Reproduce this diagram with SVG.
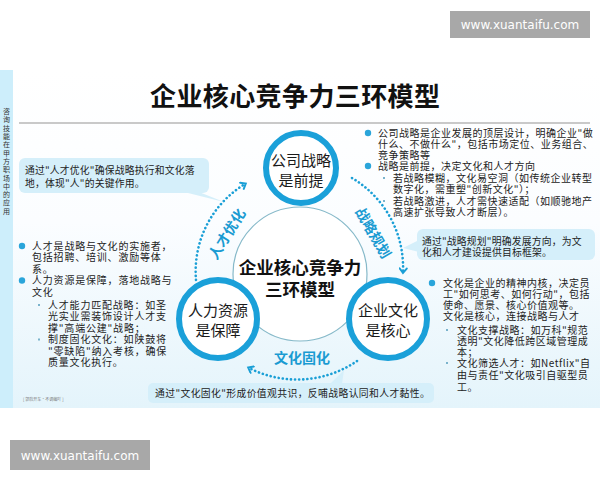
<svg xmlns="http://www.w3.org/2000/svg" width="600" height="480" viewBox="0 0 600 480">
<defs>
<linearGradient id="bg" x1="0" y1="0" x2="0" y2="1">
<stop offset="0" stop-color="#ffffff"/>
<stop offset="0.45" stop-color="#fbfdff"/>
<stop offset="1" stop-color="#e4f4fb"/>
</linearGradient>
<marker id="chev" viewBox="0 0 10 10" markerWidth="9" markerHeight="9" refX="6" refY="5" orient="auto" markerUnits="userSpaceOnUse">
<path d="M2,1 L7,5 L2,9" fill="none" stroke="#1a9fd6" stroke-width="2.2" stroke-linecap="round"/>
</marker>
<style>
.t{font-family:"Noto Sans CJK SC","Noto Sans",sans-serif;fill:#222;}
.b{font-size:10px;letter-spacing:0.5px;}
.c{font-size:9.8px;letter-spacing:0.2px;}
.ring{fill:#fff;stroke:#1aa0d9;stroke-width:6;}
.nl{font-size:15px;text-anchor:middle;fill:#1a1a1a;}
.arc{fill:none;stroke:#1a9fd6;stroke-width:2.6;stroke-dasharray:0.1 4;stroke-linecap:round;marker-end:url(#chev);}
.al{font-family:"Noto Sans CJK SC",sans-serif;font-size:14px;font-weight:bold;fill:#1a9bd2;text-anchor:middle;}
.bl{fill:#2aa5da;}
.sb{fill:#7ab3cc;}
.co{fill:#d5effa;}
.wm{fill:#a8a8a8;}
.wmt{font-family:"DejaVu Sans",sans-serif;font-size:12px;fill:#fff;text-anchor:middle;}
</style>
</defs>
<rect width="600" height="480" fill="#fff"/>
<rect x="13" y="70" width="587" height="338" fill="url(#bg)"/>
<rect x="0" y="70" width="13" height="338" fill="#cdeefb"/>
<text class="t" x="6.5" y="108" font-size="7" letter-spacing="1.3" writing-mode="vertical-rl" style="fill:#333">咨询技能在甲方职场中的应用</text>
<text class="t" x="150" y="35" font-size="26" font-weight="bold" letter-spacing="0.4" style="fill:#111" transform="translate(0,71)">企业核心竞争力三环模型</text>
<line x1="19" y1="123" x2="590" y2="123" stroke="#c9c9c9" stroke-width="2"/>

<g id="connectors">
<path class="arc" d="M196,280 A102,102 0 0 1 245,184"/>
<path class="arc" d="M352,178 A104,104 0 0 1 403,272"/>
<path class="arc" d="M357,361 A106,106 0 0 1 249,368"/>
<text class="al" transform="translate(227,234) rotate(-58)" dy="5">人才优化</text>
<text class="al" transform="translate(373,233) rotate(60)" dy="5">战略规划</text>
<text class="al" x="302" y="363">文化固化</text>
</g>

<g id="center">
<circle cx="300" cy="274" r="67" fill="#fff" stroke="#86b9c9" stroke-width="1.2"/>
<text class="t" x="300" y="274" font-size="17.5" font-weight="bold" text-anchor="middle" style="fill:#111">企业核心竞争力</text>
<text class="t" x="300" y="296" font-size="17.5" font-weight="bold" text-anchor="middle" style="fill:#111">三环模型</text>
</g>

<g id="strategy">
<circle class="ring" cx="301" cy="168" r="35"/>
<text class="t nl" x="301" y="166">公司战略</text>
<text class="t nl" x="301" y="186">是前提</text>
</g>
<g id="hr">
<circle class="ring" cx="218" cy="319" r="39"/>
<text class="t nl" x="218" y="316">人力资源</text>
<text class="t nl" x="218" y="336">是保障</text>
</g>
<g id="culture">
<circle class="ring" cx="388" cy="319" r="39"/>
<text class="t nl" x="388" y="316">企业文化</text>
<text class="t nl" x="388" y="336">是核心</text>
</g>

<g id="note-strategy">
<circle class="bl" cx="368" cy="133" r="3.2"/>
<circle class="bl" cx="368" cy="166" r="3.2"/>
<rect class="sb" x="383" y="177" width="2" height="2"/>
<rect class="sb" x="383" y="200" width="2" height="2"/>
<text class="t b"><tspan x="378" y="136.5">公司战略是企业发展的顶层设计，明确企业"做</tspan><tspan x="378" y="147.5">什么、不做什么"，包括市场定位、业务组合、</tspan><tspan x="378" y="158.5">竞争策略等</tspan><tspan x="378" y="169.5">战略是前提，决定文化和人才方向</tspan><tspan x="393" y="181.5">若战略模糊，文化易空洞（如传统企业转型</tspan><tspan x="393" y="192.5">数字化，需重塑"创新文化"）；</tspan><tspan x="393" y="204.5">若战略激进，人才需快速适配（如顺驰地产</tspan><tspan x="393" y="215.5">高速扩张导致人才断层）。</tspan></text>
</g>

<g id="note-hr">
<circle class="bl" cx="22" cy="246" r="3.2"/>
<circle class="bl" cx="22" cy="280.5" r="3.2"/>
<rect class="sb" x="38" y="304" width="2" height="2"/>
<rect class="sb" x="38" y="338.5" width="2" height="2"/>
<text class="t b" style="letter-spacing:0.8px"><tspan x="32" y="249.5">人才是战略与文化的实施者，</tspan><tspan x="32" y="261">包括招聘、培训、激励等体</tspan><tspan x="32" y="272.5">系。</tspan><tspan x="32" y="284">人力资源是保障，落地战略与</tspan><tspan x="32" y="295.5">文化</tspan><tspan x="48" y="308.5">人才能力匹配战略：如圣</tspan><tspan x="48" y="320">光实业需装饰设计人才支</tspan><tspan x="48" y="331.5">撑"高端公建"战略；</tspan><tspan x="48" y="343">制度固化文化：如陕鼓将</tspan><tspan x="48" y="354.5">"零缺陷"纳入考核，确保</tspan><tspan x="48" y="366">质量文化执行。</tspan></text>
</g>

<g id="note-culture">
<circle class="bl" cx="432" cy="283" r="3.2"/>
<rect class="sb" x="446" y="329" width="2" height="2"/>
<rect class="sb" x="446" y="362" width="2" height="2"/>
<text class="t b"><tspan x="443" y="286.5">文化是企业的精神内核，决定员</tspan><tspan x="443" y="297.5">工"如何思考、如何行动"，包括</tspan><tspan x="443" y="308.5">使命、愿景、核心价值观等。</tspan><tspan x="443" y="319.5">文化是核心，连接战略与人才</tspan><tspan x="457" y="333.5">文化支撑战略：如万科"规范</tspan><tspan x="457" y="344.5">透明"文化降低跨区域管理成</tspan><tspan x="457" y="355.5">本；</tspan><tspan x="457" y="366.5">文化筛选人才：如Netflix"自</tspan><tspan x="457" y="378.5">由与责任"文化吸引自驱型员</tspan><tspan x="457" y="390.5">工。</tspan></text>
</g>

<g id="callout-talent">
<rect class="co" x="19" y="158" width="190" height="35" rx="6"/>
<polygon class="co" points="184,192 199,192 224,202"/>
<text class="t c"><tspan x="25" y="173.5">通过"人才优化"确保战略执行和文化落</tspan><tspan x="25" y="186.5">地，体现"人"的关键作用。</tspan></text>
</g>
<g id="callout-plan">
<rect class="co" x="417" y="229" width="178" height="31" rx="6"/>
<polygon class="co" points="419,240 419,252 403,248"/>
<text class="t c"><tspan x="422" y="244.5">通过"战略规划"明确发展方向，为文</tspan><tspan x="422" y="255.5">化和人才建设提供目标框架。</tspan></text>
</g>
<g id="callout-culture">
<rect class="co" x="148" y="383" width="286" height="20" rx="5"/>
<polygon class="co" points="330,384 342,384 344,370"/>
<text class="t c" style="letter-spacing:0.4px"><tspan x="155" y="396.5">通过"文化固化"形成价值观共识，反哺战略认同和人才黏性。</tspan></text>
</g>

<text class="t" x="23" y="401" font-size="4" style="fill:#777">[ 郭欣开车·不调编吖 ]</text>

<rect class="wm" x="450" y="11" width="140" height="27"/>
<text class="wmt" x="520" y="29">www.xuantaifu.com</text>
<rect class="wm" x="10" y="440" width="140" height="30"/>
<text class="wmt" x="80" y="460">www.xuantaifu.com</text>
</svg>
